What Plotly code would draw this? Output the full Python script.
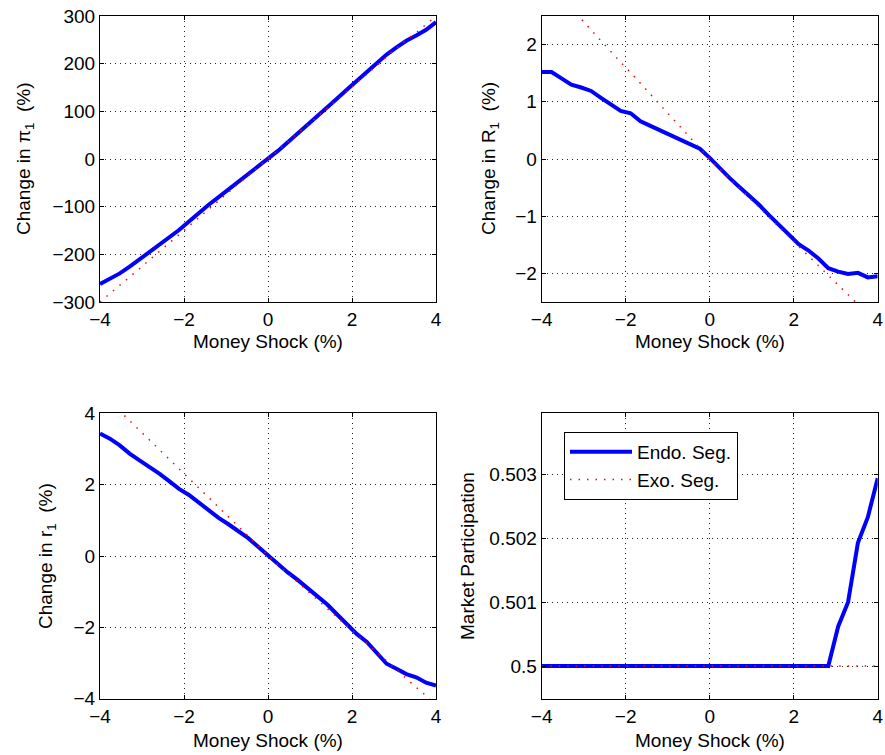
import plotly.graph_objects as go

# ---------------- data ----------------
shock = [-4.000, -3.765, -3.529, -3.294, -3.059, -2.824, -2.588, -2.353, -2.118, -1.882,
         -1.647, -1.412, -1.176, -0.941, -0.706, -0.471, -0.235, 0.000, 0.235, 0.471,
         0.706, 0.941, 1.176, 1.412, 1.647, 1.882, 2.118, 2.353, 2.588, 2.824,
         3.059, 3.294, 3.529, 3.765, 4.000]

pi1_endo = [-262, -252, -240, -226, -211, -196, -181, -166, -149, -131,
            -113, -96, -80, -64, -49, -33, -17, 0, 17, 35,
            53, 72, 90, 109, 127, 146, 164, 183, 201, 219,
            234, 248, 259, 271, 287]
pi1_exo = [-300, -283, -265, -247, -230, -212, -194, -176, -159, -141,
           -123, -105, -88, -70, -52, -35, -17, 0, 18, 36,
           53, 71, 89, 107, 124, 142, 160, 178, 196, 214,
           232, 250, 265, 283, 300]

R1_endo = [1.52, 1.52, 1.41, 1.30, 1.25, 1.19, 1.07, 0.95, 0.84, 0.80,
           0.66, 0.58, 0.50, 0.43, 0.35, 0.26, 0.18, 0.02, -0.16, -0.33,
           -0.49, -0.64, -0.80, -0.98, -1.15, -1.33, -1.49, -1.60, -1.74, -1.91,
           -1.97, -2.01, -1.99, -2.07, -2.05]
R1_exo = [3.20, 3.01, 2.82, 2.64, 2.45, 2.26, 2.07, 1.88, 1.69, 1.51,
          1.32, 1.13, 0.94, 0.75, 0.56, 0.38, 0.19, 0.00, -0.17, -0.34,
          -0.51, -0.68, -0.85, -1.02, -1.19, -1.36, -1.53, -1.69, -1.86, -2.03,
          -2.20, -2.37, -2.54, -2.71, -2.88]

r1_endo = [3.43, 3.29, 3.10, 2.87, 2.68, 2.51, 2.31, 2.10, 1.88, 1.71,
           1.49, 1.27, 1.07, 0.89, 0.70, 0.50, 0.26, 0.02, -0.24, -0.46,
           -0.67, -0.90, -1.12, -1.36, -1.64, -1.90, -2.19, -2.41, -2.73, -3.02,
           -3.16, -3.31, -3.40, -3.55, -3.63]
r1_exo = [4.60, 4.33, 4.06, 3.79, 3.52, 3.25, 2.98, 2.71, 2.44, 2.17,
          1.90, 1.63, 1.36, 1.08, 0.81, 0.54, 0.27, 0.00, -0.25, -0.49,
          -0.74, -0.98, -1.23, -1.47, -1.72, -1.96, -2.21, -2.45, -2.70, -2.94,
          -3.19, -3.43, -3.68, -3.92, -4.17]

mp_endo = [0.5, 0.5, 0.5, 0.5, 0.5, 0.5, 0.5, 0.5, 0.5, 0.5,
           0.5, 0.5, 0.5, 0.5, 0.5, 0.5, 0.5, 0.5, 0.5, 0.5,
           0.5, 0.5, 0.5, 0.5, 0.5, 0.5, 0.5, 0.5, 0.5, 0.5,
           0.50062, 0.50100, 0.50193, 0.50233, 0.50294]
mp_exo = [0.5] * 35

x_ticks = [-4, -2, 0, 2, 4]
pi1_ticks = [-300, -200, -100, 0, 100, 200, 300]
R1_ticks = [-2, -1, 0, 1, 2]
r1_ticks = [-4, -2, 0, 2, 4]
mp_ticks = [0.5, 0.501, 0.502, 0.503]
mp_tick_labels = ["0.5", "0.501", "0.502", "0.503"]

series_names = ["Endo. Seg.", "Exo. Seg."]
x_title = "Money Shock (%)"
y_titles = ["Change in π<sub>1</sub>  (%)", "Change in R<sub>1</sub>  (%)",
            "Change in r<sub>1</sub>  (%)", "Market Participation"]

# ---------------- layout geometry ----------------
W, H = 885, 755
FONT = "Liberation Sans, Arial, Helvetica, sans-serif"
FS = 19

col_px = [(100, 436), (541.7, 877.7)]
row_px = [(16, 302), (413.3, 698.7)]

fig = go.Figure()

panels = [
    (pi1_endo, pi1_exo, 0, 0, [-300, 300], pi1_ticks, None),
    (R1_endo, R1_exo, 0, 1, [-2.5, 2.5], R1_ticks, None),
    (r1_endo, r1_exo, 1, 0, [-4, 4], r1_ticks, None),
    (mp_endo, mp_exo, 1, 1, [0.49949, 0.503955], mp_ticks, mp_tick_labels),
]

for i, (endo, exo, r, c, yr, yt, ytl) in enumerate(panels):
    n = i + 1
    xa = "x" if n == 1 else f"x{n}"
    ya = "y" if n == 1 else f"y{n}"
    last = (n == 4)
    fig.add_trace(go.Scatter(x=shock, y=endo, mode="lines", name=series_names[0],
                             line=dict(color="#0000ff", width=4),
                             xaxis=xa, yaxis=ya, showlegend=last))
    fig.add_trace(go.Scatter(x=shock, y=exo, mode="lines", name=series_names[1],
                             line=dict(color="#ff0000", width=1.5, dash="1.5px,7px"),
                             xaxis=xa, yaxis=ya, showlegend=last))

    x0, x1 = col_px[c]
    y0, y1 = row_px[r]
    common = dict(showline=True, linecolor="black", linewidth=1, mirror="ticks",
                  ticks="inside", ticklen=4, tickcolor="black",
                  showgrid=True, gridcolor="#222222", gridwidth=1, griddash="1px,4px",
                  zeroline=False, automargin=False,
                  tickfont=dict(family=FONT, size=FS, color="black"))
    xkey = "xaxis" if n == 1 else f"xaxis{n}"
    ykey = "yaxis" if n == 1 else f"yaxis{n}"
    fig.update_layout(**{
        xkey: dict(common, domain=[x0 / W, x1 / W], range=[-4, 4],
                   tickvals=x_ticks, anchor=ya),
        ykey: dict(common, domain=[1 - y1 / H, 1 - y0 / H], range=yr,
                   tickvals=yt, ticktext=ytl, anchor=xa, ticklabelstandoff=0),
    })

# axis titles as annotations
ann = []
xt_centers = [268, 710]
xt_rows = [342, 740]
for r in range(2):
    for c in range(2):
        ann.append(dict(text=x_title, x=xt_centers[c] / W, y=1 - xt_rows[r] / H,
                        xref="paper", yref="paper", showarrow=False,
                        xanchor="center", yanchor="middle",
                        font=dict(family=FONT, size=FS, color="black")))
yt_x = [25, 490, 47, 467]
yt_y = [159, 159, 556, 556]
for i in range(4):
    ann.append(dict(text=y_titles[i], x=yt_x[i] / W, y=1 - yt_y[i] / H,
                    xref="paper", yref="paper", showarrow=False, textangle=-90,
                    xanchor="center", yanchor="middle",
                    font=dict(family=FONT, size=FS, color="black")))

fig.update_layout(
    width=W, height=H,
    margin=dict(l=0, r=0, t=0, b=0),
    paper_bgcolor="white", plot_bgcolor="white",
    font=dict(family=FONT, size=FS, color="black"),
    annotations=ann,
    legend=dict(x=564 / W, y=1 - 432 / H, xanchor="left", yanchor="top",
                bgcolor="white", bordercolor="black", borderwidth=1,
                font=dict(family=FONT, size=FS, color="black"),
                itemwidth=62, tracegroupgap=0),
)

fig.write_html("out.html",
               config={"displayModeBar": False},
               post_script="document.body.style.margin='0';document.body.style.overflow='hidden';")
